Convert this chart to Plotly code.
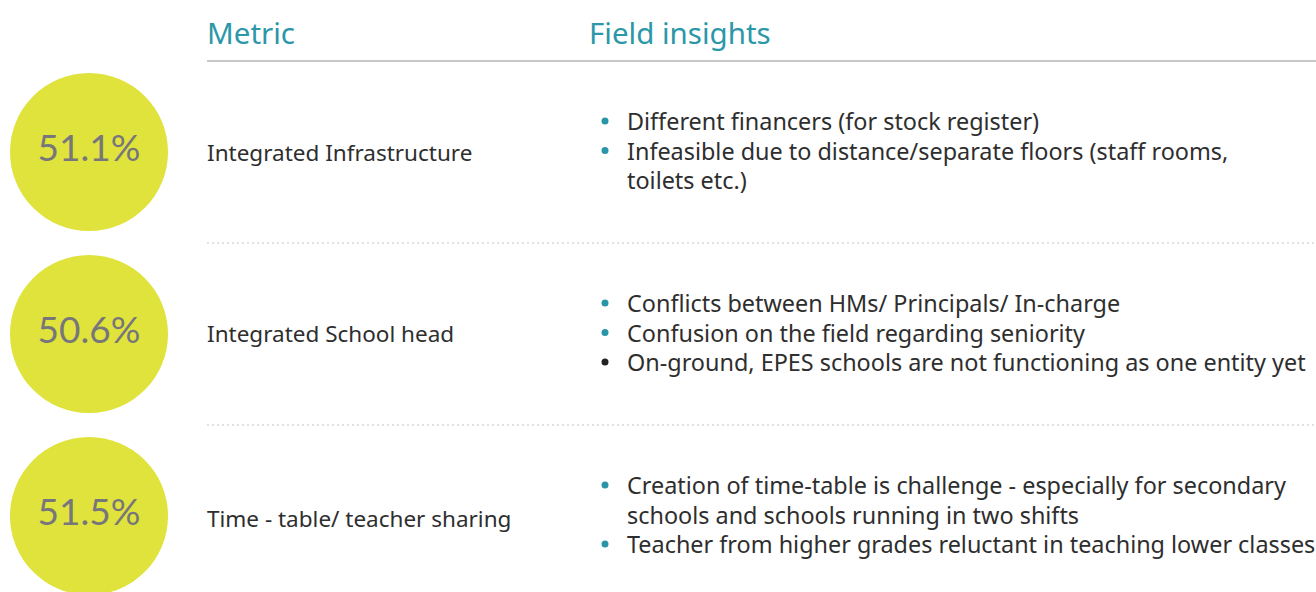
import plotly.graph_objects as go

# ---- data ----
headers = ["Metric", "Field insights"]
percentages = [51.1, 50.6, 51.5]
metrics = ["Integrated Infrastructure", "Integrated School head", "Time - table/ teacher sharing"]
insights = [
    [["Different financers (for stock register)"],
     ["Infeasible due to distance/separate floors (staff rooms,", "toilets etc.)"]],
    [["Conflicts between HMs/ Principals/ In-charge"],
     ["Confusion on the field regarding seniority"],
     ["On-ground, EPES schools are not functioning as one entity yet"]],
    [["Creation of time-table is challenge - especially for secondary", "schools and schools running in two shifts"],
     ["Teacher from higher grades reluctant in teaching lower classes"]],
]
bullet_kinds = [["teal", "teal"], ["teal", "teal", "dark"], ["teal", "teal"]]

# ---- style ----
W, H = 1316, 592
FONT = "Noto Sans"
PCT_FONT = "Lato"
TEAL = "#2b97a9"
YELLOW = "#dfe33c"
GREY_TXT = "#77767b"
DARK = "#2e2e2e"
BULLET_COL = {"teal": "#2a95a8", "dark": "#222222"}

row_y = [152, 334, 516]
metric_y = [152.5, 333.5, 518]
circle_x = 89
circle_d = 158
metric_x = 205
bullet_x = 605
text_x = 625
line_h = 29.5
text_dy = -1.5
header_y = 32
header_x = [205, 587]

fig = go.Figure()

# circles with percentages
fig.add_trace(go.Scatter(
    x=[circle_x] * len(percentages), y=row_y,
    mode="markers+text",
    marker=dict(size=circle_d, color=YELLOW, line=dict(width=0)),
    text=[f"{p:.1f}%" for p in percentages],
    textposition="middle center",
    textfont=dict(family=PCT_FONT, size=37, color=GREY_TXT),
    hoverinfo="skip", showlegend=False,
))

annotations = []
for hx, ht in zip(header_x, headers):
    annotations.append(dict(x=hx, y=header_y, text=ht, xref="x", yref="y",
                            xanchor="left", yanchor="middle", showarrow=False,
                            font=dict(family=FONT, size=29.5, color=TEAL)))

for my, mt in zip(metric_y, metrics):
    annotations.append(dict(x=metric_x, y=my, text=mt, xref="x", yref="y",
                            xanchor="left", yanchor="middle", showarrow=False,
                            font=dict(family=FONT, size=22.5, color=DARK)))

bx, by, bc = [], [], []
for ri, items in enumerate(insights):
    n_lines = sum(len(it) for it in items)
    y0 = row_y[ri] - (n_lines - 1) * line_h / 2 + text_dy
    k = 0
    for ii, item in enumerate(items):
        bx.append(bullet_x)
        by.append(y0 + k * line_h)
        bc.append(BULLET_COL[bullet_kinds[ri][ii]])
        for line in item:
            annotations.append(dict(x=text_x, y=y0 + k * line_h, text=line, xref="x", yref="y",
                                    xanchor="left", yanchor="middle", showarrow=False,
                                    font=dict(family=FONT, size=23.4, color=DARK)))
            k += 1

fig.add_trace(go.Scatter(
    x=bx, y=by, mode="markers",
    marker=dict(size=7, color=bc, line=dict(width=0)),
    hoverinfo="skip", showlegend=False,
))

shapes = [dict(type="line", xref="x", yref="y", x0=207, x1=W, y0=61, y1=61,
               line=dict(color="#c8c8c8", width=2))]
for sy in [243, 425]:
    shapes.append(dict(type="line", xref="x", yref="y", x0=207, x1=W, y0=sy, y1=sy,
                       line=dict(color="#c4c4c4", width=1, dash="2px,3px")))

fig.update_layout(
    width=W, height=H,
    margin=dict(l=0, r=0, t=0, b=0),
    paper_bgcolor="white", plot_bgcolor="white",
    xaxis=dict(range=[0, W], visible=False, fixedrange=True),
    yaxis=dict(range=[H, 0], visible=False, fixedrange=True),
    annotations=annotations,
    shapes=shapes,
)
fig.write_html(
    "out.html",
    config={"displayModeBar": False},
    post_script="document.body.style.margin='0';document.body.style.overflow='hidden';",
)
